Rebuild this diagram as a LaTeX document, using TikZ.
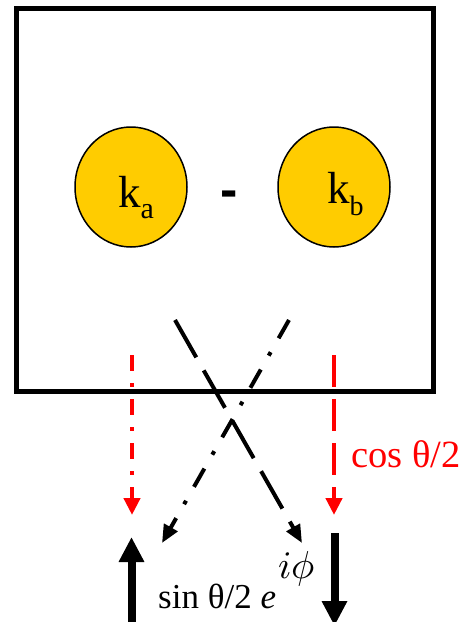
\documentclass[tikz,border=0pt]{standalone}
\usepackage{fontspec}
\usepackage{unicode-math}
\setmainfont{Liberation Serif}
\setsansfont{Liberation Sans}
\setmathfont{Latin Modern Math}
\usetikzlibrary{shapes.geometric,arrows.meta}
\definecolor{gold}{HTML}{FFCC00}
\begin{document}
\begin{tikzpicture}[x=1pt,y=-1pt,
  ball/.style={ellipse,draw=black,line width=1.5pt,fill=gold,minimum width=112pt,minimum height=120pt,inner sep=0pt},
  longdash/.style={line width=4pt,dash pattern=on 43pt off 15pt,-{Triangle[length=18pt,width=15pt]}},
  dashdot/.style={line width=4pt,dash pattern=on 21pt off 16pt on 4pt off 16pt,-{Triangle[length=18pt,width=15pt]}},
  reddashdot/.style={red,line width=4.5pt,dash pattern=on 16pt off 12pt on 4pt off 12pt,-{Triangle[length=17pt,width=16pt]}},
  reddash/.style={red,line width=4.5pt,dash pattern=on 32pt off 12pt,-{Triangle[length=17pt,width=16pt]}},
  spin/.style={line width=8pt,-{Triangle[length=25pt,width=24pt]}},
  txt/.style={inner sep=0pt,anchor=base west}]
\useasboundingbox (0,0) rectangle (473,622);
% box
\draw[line width=5pt] (16.5,8) rectangle (433,391.5);
% balls
\node[ball] (ka) at (131,187) {};
\node[ball] (kb) at (334,187) {};
\node[txt,font=\fontsize{45}{50}\selectfont] (la) at (118,207) {k\raisebox{-11pt}{\fontsize{30}{34}\selectfont a}};
\node[txt,font=\fontsize{45}{50}\selectfont] (lb) at (327,203) {k\raisebox{-12pt}{\fontsize{28}{32}\selectfont b}};
\node[txt,font=\sffamily\bfseries\fontsize{52}{56}\selectfont] (minus) at (220,207) {-};
% coordinates
\coordinate (d1s) at (175,320);
\coordinate (d1e) at (302,543);
\coordinate (d2s) at (289,320);
\coordinate (d2e) at (162,543);
\coordinate (r1s) at (132,355);
\coordinate (r1e) at (132,515);
\coordinate (r2s) at (334,355);
\coordinate (r2e) at (334,515);
\coordinate (ups) at (131.5,625);
\coordinate (upe) at (131.5,537);
\coordinate (dns) at (334.5,533);
\coordinate (dne) at (334.5,626);
% connectors
\draw[longdash] (d1s) -- (d1e);
\draw[dashdot] (d2s) -- (d2e);
\draw[reddashdot] (r1s) -- (r1e);
\draw[reddash] (r2s) -- (r2e);
\draw[spin] (ups) -- (upe);
\draw[spin] (dns) -- (dne);
% labels
\node[txt,red,font=\fontsize{38.5}{44}\selectfont] (cos) at (351,467) {cos θ/2};
\node[txt,font=\fontsize{35}{40}\selectfont] (sin) at (158,608) {sin θ/2 \textit{e}};
\node[txt,font=\fontsize{39}{44}\selectfont] (exp) at (278,578) {$i\phi$};
\end{tikzpicture}
\end{document}
